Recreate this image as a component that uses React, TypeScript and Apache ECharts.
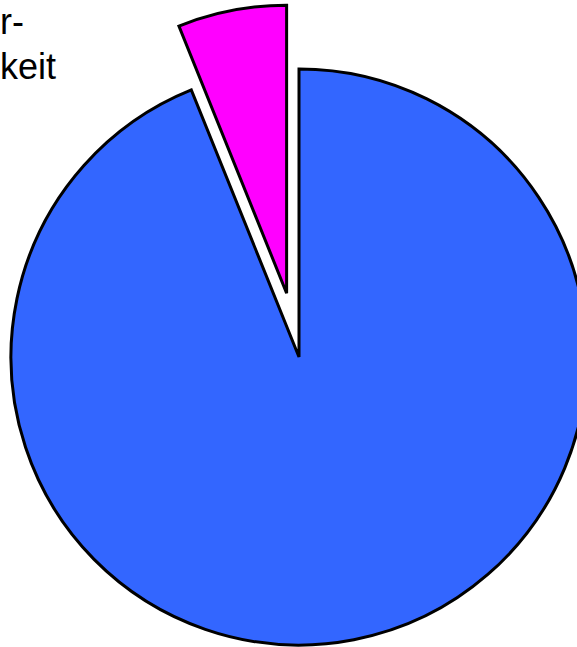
import React, { useEffect, useRef } from "react";
import * as echarts from "echarts";

const categories = ["Verfügbarkeit", "Nichtverfügbarkeit"];
const values = [93.9, 6.1];
const colors = ["#3366FF", "#FF00FF"];
const labelLines = ["r-", "keit"];

export default function App() {
  const ref = useRef<HTMLDivElement>(null);
  useEffect(() => {
    if (!ref.current) return;
    const chart = echarts.init(ref.current, null, { renderer: "svg" });
    chart.setOption({
      animation: false,
      backgroundColor: "#ffffff",
      graphic: [
        {
          type: "text",
          left: 0,
          top: -1,
          style: {
            text: labelLines.join("\n"),
            font: "36px 'Liberation Sans', Arial, sans-serif",
            lineHeight: 45,
            fill: "#000000",
            align: "left",
          },
        },
      ],
      series: [
        {
          type: "pie",
          center: [299, 357],
          radius: [0, 288],
          startAngle: 90,
          clockwise: true,
          selectedMode: "single",
          selectedOffset: 65,
          label: { show: false },
          labelLine: { show: false },
          emphasis: { disabled: true },
          itemStyle: { borderColor: "#000000", borderWidth: 3, borderJoin: "miter" },
          data: categories.map((name, i) => ({
            name,
            value: values[i],
            selected: i === 1,
            itemStyle: { color: colors[i] },
          })),
        },
      ],
    });
    return () => chart.dispose();
  }, []);
  return (
    <div
      ref={ref}
      style={{ position: "absolute", left: 0, top: 0, width: 577, height: 647 }}
    />
  );
}
